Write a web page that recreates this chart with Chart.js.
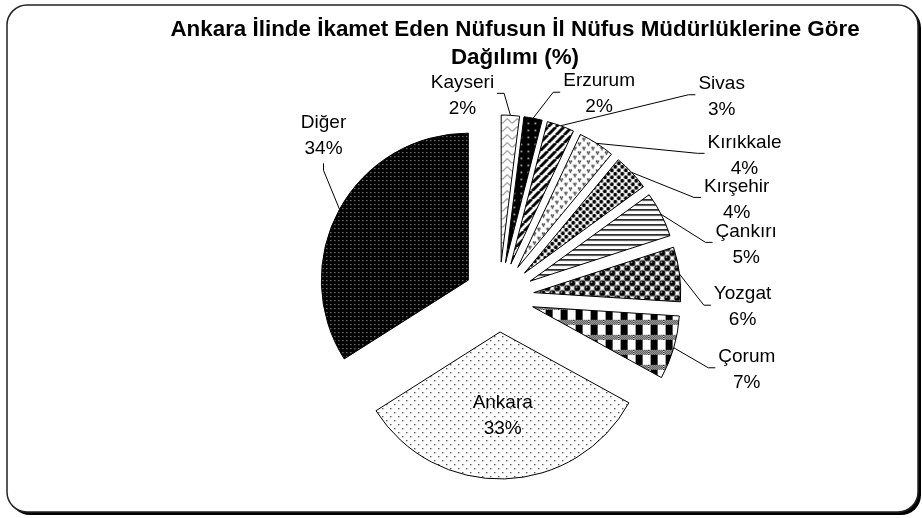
<!DOCTYPE html>
<html>
<head>
<meta charset="utf-8">
<script src="https://cdn.jsdelivr.net/npm/chart.js@4/dist/chart.umd.min.js"></script>
<style>
  html, body { margin: 0; padding: 0; background: #fff; }
  #wrap { width: 922px; height: 518px; }
</style>
</head>
<body>
<div id="wrap"><canvas id="chart" width="922" height="518"></canvas></div>
<script>
// ---- data ----
const TITLE_LINES = ['Ankara İlinde İkamet Eden Nüfusun İl Nüfus Müdürlüklerine Göre', 'Dağılımı (%)'];
const CATEGORIES = ['Kayseri', 'Erzurum', 'Sivas', 'Kırıkkale', 'Kırşehir', 'Çankırı', 'Yozgat', 'Çorum', 'Ankara', 'Diğer'];
const SHARES = [2, 2, 3, 4, 4, 5, 6, 7, 33, 34];

// ---- layout / style ----
const EXPLODE = 35;           // px each slice is pulled out
const PIE_RADIUS = 147;
const FONT = "'Liberation Sans', Arial, sans-serif";
// label placement relative to each slice's outer mid point (dx, dy) and leader type
const LABEL_PLACE = [
  {dx: -48, dy: -20, lead: 'left'},
  {dx: 66,  dy: -24, lead: 'right'},
  {dx: 161, dy: -29, lead: 'right'},
  {dx: 148, dy: 12,  lead: 'right'},
  {dx: 105, dy: 27,  lead: 'right'},
  {dx: 85,  dy: 30,  lead: 'right'},
  {dx: 63,  dy: 33,  lead: 'right'},
  {dx: 73,  dy: 22,  lead: 'right'},
  {inside: 0.57},
  {dx: -16, dy: -74, lead: 'up'}
];

const canvas = document.getElementById('chart');
const mainCtx = canvas.getContext('2d');

function makePattern(w, h, bg, draw) {
  const c = document.createElement('canvas');
  c.width = w; c.height = h;
  const g = c.getContext('2d');
  g.fillStyle = bg; g.fillRect(0, 0, w, h);
  draw(g, w, h);
  return mainCtx.createPattern(c, 'repeat');
}

function wrapCircles(g, pts, r, w, h, color) {
  g.fillStyle = color;
  for (const [x, y] of pts) {
    for (const ox of [-w, 0, w]) for (const oy of [-h, 0, h]) {
      g.beginPath(); g.arc(x + ox, y + oy, r, 0, Math.PI * 2); g.fill();
    }
  }
}

const PATTERNS = [
  // Kayseri: zigzag
  makePattern(10, 8, '#fff', (g) => {
    g.strokeStyle = '#555'; g.lineWidth = 1;
    g.beginPath(); g.moveTo(0, 6.5); g.lineTo(5, 1.5); g.lineTo(10, 6.5); g.stroke();
  }),
  // Erzurum: black with sparse white dots
  makePattern(7, 7, '#000', (g) => {
    g.fillStyle = '#eee'; g.fillRect(3, 3, 1.5, 1.5);
  }),
  // Sivas: wide upward diagonal
  makePattern(8, 8, '#fff', (g) => {
    g.strokeStyle = '#000'; g.lineWidth = 3;
    for (const o of [-8, 0, 8]) {
      g.beginPath(); g.moveTo(o, 8); g.lineTo(o + 8, 0); g.stroke();
    }
  }),
  // Kırıkkale: small divots
  makePattern(9, 9, '#fff', (g) => {
    g.fillStyle = '#000';
    for (const [x, y] of [[1, 1], [5.5, 5.5]]) {
      g.fillRect(x, y, 1.4, 1.4); g.fillRect(x + 1.8, y, 1.4, 1.4); g.fillRect(x + 0.9, y + 1.8, 1.4, 1.4);
    }
  }),
  // Kırşehir: bold black dots
  makePattern(7, 7, '#fff', (g) => {
    wrapCircles(g, [[1.75, 1.75], [5.25, 5.25]], 1.9, 7, 7, '#000');
  }),
  // Çankırı: horizontal lines
  makePattern(4, 5, '#fff', (g) => {
    g.fillStyle = '#111'; g.fillRect(0, 0, 4, 1.6);
  }),
  // Yozgat: spheres on checkerboard
  makePattern(10, 10, '#fff', (g) => {
    wrapCircles(g, [[2.5, 2.5], [7.5, 7.5]], 3.1, 10, 10, '#000');
    g.fillStyle = '#e0e0e0';
    for (const [x, y] of [[2.5, 2.5], [7.5, 7.5]]) {
      g.beginPath(); g.arc(x - 0.9, y - 1, 0.85, 0, Math.PI * 2); g.fill();
    }
  }),
  // Çorum: plaid
  makePattern(15, 15, '#fff', (g) => {
    g.fillStyle = '#000'; g.fillRect(2, 0, 7, 10);
    for (let y = 10; y < 15; y++) {
      for (let x = 0; x < 15; x++) {
        if ((x + y) % 2 === 0) g.fillRect(x, y, 1, 1);
      }
    }
  }),
  // Ankara: sparse dots
  makePattern(8, 8, '#fff', (g) => {
    g.fillStyle = '#444';
    g.fillRect(1, 1, 1.3, 1.3); g.fillRect(5, 5, 1.3, 1.3);
  }),
  // Diğer: black with dense white dots
  makePattern(4, 4, '#000', (g) => {
    g.fillStyle = '#ccc'; g.fillRect(1, 1, 1, 1);
  })
];

// Explode every slice by a fixed pixel distance (without Chart.js' radius compensation)
const baseArcDraw = Chart.ArcElement.prototype.draw;
Chart.ArcElement.prototype.draw = function (ctx) {
  const mid = (this.startAngle + this.endAngle) / 2;
  ctx.save();
  ctx.translate(Math.cos(mid) * EXPLODE, Math.sin(mid) * EXPLODE);
  baseArcDraw.call(this, ctx);
  ctx.restore();
};

function roundRectPath(ctx, x, y, w, h, r) {
  ctx.beginPath();
  ctx.moveTo(x + r, y);
  ctx.lineTo(x + w - r, y);
  ctx.arcTo(x + w, y, x + w, y + r, r);
  ctx.lineTo(x + w, y + h - r);
  ctx.arcTo(x + w, y + h, x + w - r, y + h, r);
  ctx.lineTo(x + r, y + h);
  ctx.arcTo(x, y + h, x, y + h - r, r);
  ctx.lineTo(x, y + r);
  ctx.arcTo(x, y, x + r, y, r);
  ctx.closePath();
}

const framePlugin = {
  id: 'frame',
  beforeDraw(chart) {
    const ctx = chart.ctx;
    ctx.save();
    ctx.fillStyle = '#fff';
    ctx.fillRect(0, 0, chart.width, chart.height);
    roundRectPath(ctx, 10, 8, 911, 507, 20);
    ctx.fillStyle = '#000'; ctx.fill();
    roundRectPath(ctx, 7, 5, 911, 507, 20);
    ctx.fillStyle = '#fff'; ctx.fill();
    ctx.strokeStyle = '#222'; ctx.lineWidth = 1.5; ctx.stroke();
    // title
    ctx.fillStyle = '#000';
    ctx.font = 'bold 22.4px ' + FONT;
    ctx.textAlign = 'center'; ctx.textBaseline = 'middle';
    TITLE_LINES.forEach((t, i) => ctx.fillText(t, 515, 30 + i * 28));
    ctx.restore();
  }
};

const labelPlugin = {
  id: 'sliceLabels',
  afterDatasetsDraw(chart) {
    const ctx = chart.ctx;
    const meta = chart.getDatasetMeta(0);
    const total = SHARES.reduce((a, b) => a + b, 0);
    ctx.save();
    ctx.font = '19px ' + FONT;
    ctx.fillStyle = '#000';
    ctx.strokeStyle = '#000';
    ctx.lineWidth = 1;
    ctx.textAlign = 'center'; ctx.textBaseline = 'middle';
    meta.data.forEach((arc, i) => {
      const p = arc.getProps(['x', 'y', 'startAngle', 'endAngle', 'outerRadius'], true);
      const mid = (p.startAngle + p.endAngle) / 2;
      const cs = Math.cos(mid), sn = Math.sin(mid);
      const place = LABEL_PLACE[i];
      const lines = [CATEGORIES[i], Math.round(SHARES[i] / total * 100) + '%'];
      const w = Math.max(...lines.map(l => ctx.measureText(l).width));
      let cx, cy;
      if (place.inside !== undefined) {
        const d = EXPLODE + p.outerRadius * place.inside;
        cx = p.x + cs * d; cy = p.y + sn * d;
      } else {
        const ax = p.x + cs * (EXPLODE + p.outerRadius);
        const ay = p.y + sn * (EXPLODE + p.outerRadius);
        cx = ax + place.dx; cy = ay + place.dy;
        ctx.beginPath();
        ctx.moveTo(ax, ay);
        if (place.lead === 'right') {
          const lx = cx - w / 2;
          ctx.lineTo(lx - 10, cy - 2); ctx.lineTo(lx - 3, cy - 2);
        } else if (place.lead === 'left') {
          const rx = cx + w / 2;
          ctx.lineTo(rx + 10, cy - 2); ctx.lineTo(rx + 3, cy - 2);
        } else {
          const by = cy + 20;
          ctx.lineTo(cx, by + 15); ctx.lineTo(cx, by + 8);
        }
        ctx.stroke();
      }
      ctx.fillText(lines[0], cx, cy - 13);
      ctx.fillText(lines[1], cx, cy + 13);
    });
    ctx.restore();
  }
};

new Chart(canvas, {
  type: 'pie',
  data: {
    labels: CATEGORIES,
    datasets: [{
      data: SHARES,
      backgroundColor: PATTERNS,
      borderColor: '#000',
      borderWidth: 1,
      clip: false
    }]
  },
  options: {
    responsive: false,
    animation: false,
    events: [],
    rotation: 0,
    radius: PIE_RADIUS,
    layout: {padding: {left: 76, right: 0, top: 76, bottom: 0}},
    plugins: {
      legend: {display: false},
      tooltip: {enabled: false},
      title: {display: false}
    }
  },
  plugins: [framePlugin, labelPlugin]
});
</script>
</body>
</html>
